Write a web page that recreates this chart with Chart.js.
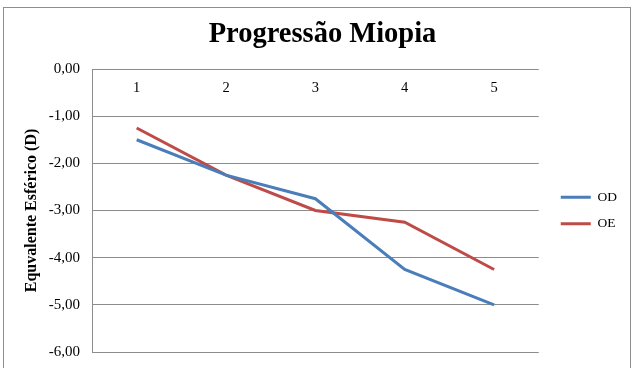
<!DOCTYPE html>
<html>
<head>
<meta charset="utf-8">
<script src="https://cdn.jsdelivr.net/npm/chart.js@4/dist/chart.umd.min.js"></script>
<style>
  html, body { margin: 0; padding: 0; background: #fff; overflow: hidden; width: 633px; height: 368px; }
  #frame { position: absolute; left: 3px; top: 7px; width: 628px; height: 400px; border: 1px solid #8e8e8e; box-sizing: border-box; background: #fff; }
  #c { position: absolute; left: 0; top: 0; }
</style>
</head>
<body>
<div id="frame"><canvas id="c" width="626" height="398"></canvas></div>
<script>
const chartTitle = "Progressão Miopia";
const yAxisTitle = "Equvalente Esférico (D)";
const categories = ["1", "2", "3", "4", "5"];
const seriesNames = ["OD", "OE"];
const odValues = [-1.5, -2.25, -2.75, -4.25, -5.0];
const oeValues = [-1.25, -2.25, -3.0, -3.25, -4.25];
const yMin = -6;
const yMax = 0;
const yStep = 1;

Chart.defaults.font.family = "'Liberation Serif', 'Times New Roman', serif";
Chart.defaults.color = "#000";

const gridColor = "#8c8c8c";

new Chart(document.getElementById("c"), {
  type: "line",
  data: {
    labels: categories,
    datasets: [
      { label: seriesNames[0], data: odValues, borderColor: "#4A7EBB", backgroundColor: "#4A7EBB", borderWidth: 3, pointRadius: 0, tension: 0, yAxisID: "y" },
      { label: seriesNames[1], data: oeValues, borderColor: "#BE4B48", backgroundColor: "#BE4B48", borderWidth: 3, pointRadius: 0, tension: 0, yAxisID: "y" }
    ]
  },
  options: {
    responsive: false,
    animation: false,
    devicePixelRatio: 1,
    layout: { padding: { left: 14, top: 0, right: 3, bottom: 54 } },
    plugins: {
      title: {
        display: true,
        text: chartTitle,
        color: "#000",
        font: { size: 28.5, weight: "bold" },
        padding: { top: 10, bottom: 16.8 }
      },
      legend: {
        position: "right",
        fullSize: false,
        labels: {
          usePointStyle: true,
          pointStyle: "line",
          pointStyleWidth: 30,
          padding: 13,
          color: "#000",
          font: { size: 13.5 }
        }
      },
      tooltip: { enabled: false }
    },
    scales: {
      x: {
        type: "category",
        position: { y: 0 },
        offset: true,
        grid: { display: false, drawTicks: false },
        border: { display: false },
        ticks: { padding: 10, color: "#000", font: { size: 14.5 }, maxRotation: 0 }
      },
      y: {
        type: "linear",
        position: "left",
        min: yMin,
        max: yMax,
        afterFit: (s) => { s.width = 74; },
        grid: { color: gridColor, lineWidth: 1, drawTicks: false },
        border: { display: true, color: gridColor, width: 1 },
        ticks: {
          stepSize: yStep,
          padding: 12,
          color: "#000",
          font: { size: 15 },
          callback: (v) => Number(v).toFixed(2).replace(".", ",")
        },
        title: {
          display: true,
          text: yAxisTitle,
          color: "#000",
          font: { size: 16, weight: "bold" },
          padding: { top: 4, bottom: 4 }
        }
      },
      y2: {
        type: "linear",
        position: "right",
        display: true,
        afterFit: (s) => { s.width = 9; },
        grid: { display: false },
        border: { display: false },
        ticks: { display: false }
      }
    }
  }
});
</script>
</body>
</html>
